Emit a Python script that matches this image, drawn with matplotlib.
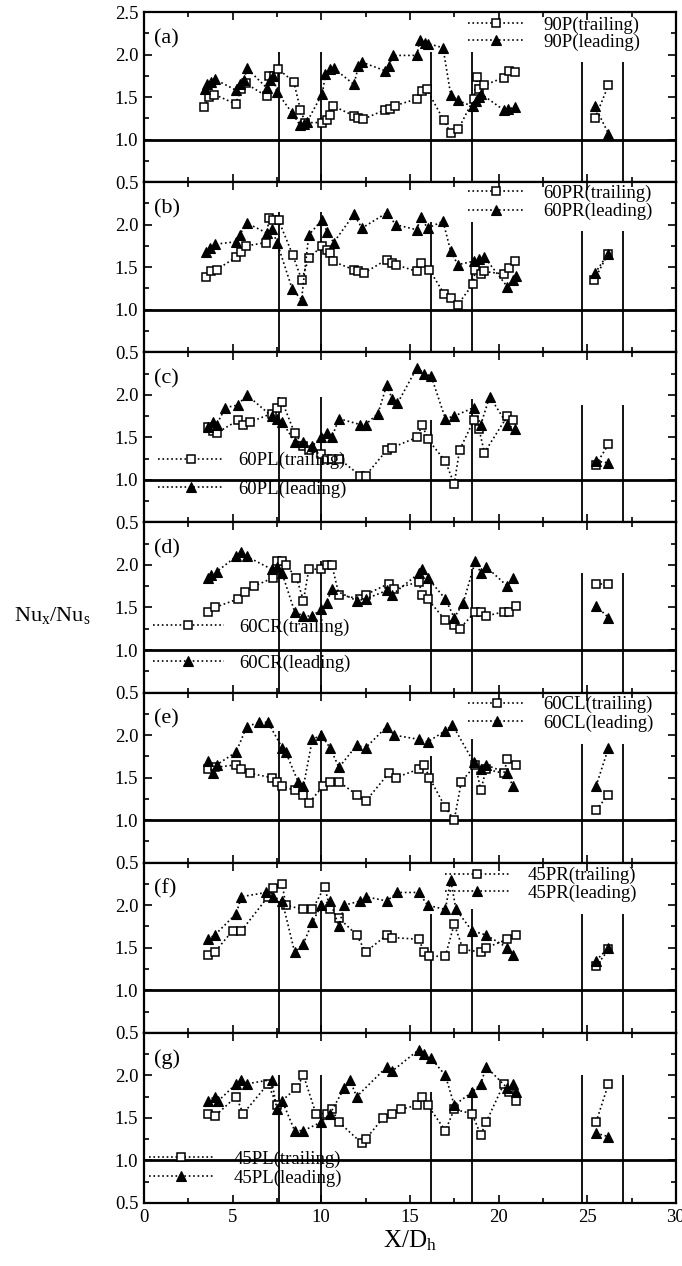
import numpy as np
import matplotlib
matplotlib.use('Agg')
import matplotlib.pyplot as plt
from matplotlib.ticker import MultipleLocator, FormatStrFormatter
from matplotlib.lines import Line2D

plt.rcParams['font.family'] = ['Liberation Serif', 'DejaVu Serif']
plt.rcParams['mathtext.fontset'] = 'custom'
plt.rcParams['mathtext.rm'] = 'Liberation Serif'
plt.rcParams['mathtext.it'] = 'Liberation Serif:italic'

# ---------------- data ----------------
rib_x = [7.6, 10.0, 16.2, 18.5, 24.7, 27.0]

a_tr_x = [3.4, 3.67, 3.98, 5.17, 5.5, 5.75, 6.92, 7.05, 7.33, 7.57, 8.45, 8.83, 9.1, 10.03, 10.3, 10.5, 10.64,
          11.84, 12.1, 12.36, 13.6, 13.9, 14.17, 15.41, 15.68, 15.96, 16.9, 17.3, 17.73, 18.6, 18.76, 18.9, 19.2,
          20.3, 20.6, 20.9, 25.44, 26.2]
a_tr_y = [1.38, 1.50, 1.53, 1.42, 1.60, 1.66, 1.51, 1.75, 1.75, 1.83, 1.68, 1.35, 1.20, 1.20, 1.23, 1.29, 1.40,
          1.28, 1.25, 1.24, 1.35, 1.36, 1.40, 1.48, 1.57, 1.59, 1.23, 1.08, 1.12, 1.48, 1.74, 1.60, 1.64,
          1.73, 1.81, 1.79, 1.25, 1.64]
a_ld_x = [3.43, 3.58, 3.8, 4.0, 5.2, 5.4, 5.65, 5.8, 6.92, 7.1, 7.3, 7.5, 8.37, 8.8, 9.03, 9.2, 10.06, 10.24,
          10.5, 10.7, 11.84, 12.1, 12.3, 13.6, 13.8, 14.05, 15.4, 15.55, 15.85, 16.0, 16.87, 17.3, 17.7, 18.55,
          18.75, 18.9, 19.0, 20.28, 20.56, 20.9, 25.44, 26.2]
a_ld_y = [1.59, 1.65, 1.68, 1.71, 1.58, 1.65, 1.70, 1.84, 1.61, 1.70, 1.75, 1.56, 1.31, 1.17, 1.18, 1.21, 1.54, 1.77,
          1.83, 1.84, 1.65, 1.86, 1.91, 1.81, 1.86, 1.99, 1.99, 2.17, 2.14, 2.13, 2.08, 1.53, 1.46, 1.39,
          1.45, 1.50, 1.54, 1.35, 1.36, 1.38, 1.39, 1.07]

b_tr_x = [3.49, 3.77, 4.1, 5.2, 5.47, 5.75, 6.88, 7.05, 7.3, 7.6, 8.4, 8.9, 9.3, 10.06, 10.35, 10.5, 10.64, 11.84,
          12.1, 12.4, 13.7, 13.97, 14.2, 15.4, 15.6, 16.1, 16.95, 17.3, 17.7, 18.55, 18.7, 19.0, 19.2, 20.3, 20.6,
          20.9, 25.4, 26.15]
b_tr_y = [1.39, 1.46, 1.47, 1.62, 1.68, 1.75, 1.79, 2.08, 2.06, 2.05, 1.64, 1.35, 1.61, 1.75, 1.70, 1.67, 1.57, 1.47,
          1.45, 1.43, 1.59, 1.55, 1.53, 1.45, 1.55, 1.47, 1.18, 1.14, 1.06, 1.30, 1.47, 1.42, 1.45, 1.42, 1.49,
          1.57, 1.35, 1.65]
b_ld_x = [3.49, 3.75, 4.0, 5.2, 5.4, 5.8, 6.95, 7.2, 7.51, 8.37, 8.89, 9.3, 10.06, 10.34, 10.7, 11.84, 12.3, 13.7,
          14.2, 15.4, 15.6, 16.0, 16.87, 17.3, 17.7, 18.6, 18.9, 19.2, 20.5, 20.8, 21.0, 25.44, 26.15]
b_ld_y = [1.68, 1.73, 1.77, 1.80, 1.88, 2.02, 1.90, 1.95, 1.79, 1.24, 1.12, 1.88, 2.06, 1.91, 1.79, 2.12, 1.96, 2.14,
          2.00, 1.94, 2.09, 1.96, 2.04, 1.69, 1.53, 1.57, 1.60, 1.62, 1.27, 1.35, 1.40, 1.43, 1.65]

c_tr_x = [3.6, 3.9, 4.1, 5.3, 5.6, 6.0, 7.2, 7.5, 7.8, 8.5, 9.0, 9.3, 10.0, 10.3, 10.6, 11.0, 12.2, 12.5, 13.7,
          14.0, 15.4, 15.7, 16.0, 17.0, 17.5, 17.8, 18.6, 18.9, 19.2, 20.5, 20.8, 25.5, 26.2]
c_tr_y = [1.62, 1.58, 1.55, 1.70, 1.65, 1.68, 1.78, 1.85, 1.92, 1.55, 1.40, 1.35, 1.30, 1.25, 1.25, 1.25, 1.05, 1.05,
          1.35, 1.38, 1.50, 1.65, 1.48, 1.22, 0.95, 1.35, 1.70, 1.60, 1.32, 1.75, 1.70, 1.18, 1.42]
c_ld_x = [3.6, 3.9, 4.1, 4.6, 5.3, 5.8, 7.2, 7.5, 7.8, 8.5, 9.0, 9.5, 10.0, 10.3, 10.6, 11.0, 12.2, 12.5, 13.2,
          13.7, 14.0, 14.3, 15.4, 15.8, 16.2, 17.0, 17.5, 18.6, 19.0, 19.5, 20.5, 20.9, 25.5, 26.2]
c_ld_y = [1.62, 1.68, 1.65, 1.85, 1.88, 2.00, 1.75, 1.72, 1.68, 1.45, 1.45, 1.40, 1.50, 1.55, 1.50, 1.72, 1.65, 1.65,
          1.78, 2.12, 1.95, 1.90, 2.32, 2.25, 2.22, 1.72, 1.75, 1.85, 1.65, 1.98, 1.65, 1.60, 1.22, 1.20]

d_tr_x = [3.6, 4.0, 5.3, 5.7, 6.2, 7.3, 7.5, 7.8, 8.0, 8.6, 9.0, 9.3, 10.0, 10.3, 10.6, 11.0, 12.2, 12.5, 13.8,
          14.1, 15.5, 15.7, 16.0, 17.0, 17.5, 17.8, 18.7, 19.0, 19.3, 20.3, 20.6, 21.0, 25.5, 26.2]
d_tr_y = [1.45, 1.50, 1.60, 1.68, 1.75, 1.85, 2.05, 2.05, 2.00, 1.85, 1.58, 1.95, 1.95, 2.00, 2.00, 1.65, 1.60, 1.65,
          1.78, 1.72, 1.80, 1.65, 1.60, 1.35, 1.30, 1.25, 1.45, 1.45, 1.40, 1.45, 1.45, 1.52, 1.78, 1.78]
d_ld_x = [3.6, 3.8, 4.1, 5.2, 5.5, 5.8, 7.2, 7.5, 7.8, 8.5, 9.0, 9.5, 10.0, 10.3, 10.6, 12.0, 12.5, 13.7, 14.0,
          15.5, 15.7, 16.0, 17.0, 17.5, 18.0, 18.7, 19.0, 19.3, 20.5, 20.8, 25.5, 26.2]
d_ld_y = [1.85, 1.88, 1.92, 2.10, 2.15, 2.10, 1.95, 1.98, 1.90, 1.45, 1.40, 1.40, 1.48, 1.55, 1.72, 1.58, 1.60, 1.70,
          1.65, 1.90, 1.95, 1.85, 1.60, 1.38, 1.55, 2.05, 1.90, 1.98, 1.75, 1.85, 1.52, 1.38]

e_tr_x = [3.6, 4.0, 5.2, 5.5, 6.0, 7.2, 7.5, 7.8, 8.5, 9.0, 9.3, 10.1, 10.5, 11.0, 12.0, 12.5, 13.8, 14.2, 15.5,
          15.8, 16.1, 17.0, 17.5, 17.9, 18.7, 19.0, 19.3, 20.3, 20.5, 21.0, 25.5, 26.2]
e_tr_y = [1.60, 1.62, 1.65, 1.60, 1.55, 1.50, 1.45, 1.40, 1.35, 1.30, 1.20, 1.40, 1.45, 1.45, 1.30, 1.22, 1.55, 1.50,
          1.60, 1.65, 1.50, 1.15, 1.00, 1.45, 1.65, 1.35, 1.60, 1.55, 1.72, 1.65, 1.12, 1.30]
e_ld_x = [3.6, 3.9, 4.1, 5.2, 5.8, 6.5, 7.0, 7.8, 8.0, 8.7, 9.0, 9.5, 10.0, 10.5, 11.0, 12.0, 12.5, 13.7, 14.1,
          15.5, 16.0, 17.0, 17.4, 18.6, 19.0, 19.3, 20.5, 20.8, 25.5, 26.2]
e_ld_y = [1.70, 1.55, 1.65, 1.80, 2.10, 2.15, 2.15, 1.85, 1.80, 1.45, 1.40, 1.95, 2.00, 1.85, 1.62, 1.88, 1.85, 2.10,
          2.00, 1.95, 1.92, 2.05, 2.12, 1.68, 1.60, 1.65, 1.55, 1.40, 1.40, 1.85]

f_tr_x = [3.6, 4.0, 5.0, 5.5, 7.0, 7.3, 7.8, 8.0, 9.0, 9.5, 10.2, 10.5, 11.0, 12.0, 12.5, 13.7, 14.0, 15.5, 15.8,
          16.1, 17.0, 17.5, 18.0, 19.0, 19.3, 20.5, 21.0, 25.5, 26.2]
f_tr_y = [1.42, 1.45, 1.70, 1.70, 2.10, 2.20, 2.25, 2.00, 1.95, 1.95, 2.22, 1.95, 1.85, 1.65, 1.45, 1.65, 1.62, 1.60,
          1.45, 1.40, 1.40, 1.78, 1.48, 1.45, 1.50, 1.60, 1.65, 1.28, 1.48]
f_ld_x = [3.6, 4.0, 5.2, 5.5, 6.9, 7.3, 7.8, 8.5, 9.0, 9.5, 10.0, 10.5, 11.0, 11.3, 12.2, 12.5, 13.7, 14.3, 15.5,
          16.0, 17.0, 17.3, 17.6, 18.5, 19.3, 20.5, 20.8, 25.5, 26.2]
f_ld_y = [1.60, 1.65, 1.90, 2.10, 2.15, 2.10, 2.05, 1.45, 1.55, 1.80, 2.00, 2.05, 1.75, 2.00, 2.05, 2.10, 2.05, 2.15,
          2.15, 2.00, 1.95, 2.30, 1.95, 1.70, 1.65, 1.50, 1.42, 1.35, 1.50]

g_tr_x = [3.6, 4.0, 5.2, 5.6, 7.0, 7.5, 8.6, 9.0, 9.7, 10.3, 10.6, 11.0, 12.3, 12.5, 13.5, 14.0, 14.5, 15.4, 15.7,
          16.0, 17.0, 17.5, 18.5, 19.0, 19.3, 20.3, 20.6, 21.0, 25.5, 26.2]
g_tr_y = [1.55, 1.52, 1.75, 1.55, 1.90, 1.65, 1.85, 2.00, 1.55, 1.55, 1.60, 1.45, 1.20, 1.25, 1.50, 1.55, 1.60, 1.65,
          1.75, 1.65, 1.35, 1.60, 1.55, 1.30, 1.45, 1.90, 1.80, 1.70, 1.45, 1.90]
g_ld_x = [3.6, 4.0, 4.2, 5.2, 5.5, 5.8, 7.2, 7.5, 7.8, 8.5, 9.0, 10.0, 10.5, 11.3, 11.6, 12.0, 13.7, 14.0, 15.5,
          15.8, 16.2, 17.0, 17.5, 18.5, 19.0, 19.3, 20.5, 20.8, 21.0, 25.5, 26.2]
g_ld_y = [1.70, 1.75, 1.70, 1.90, 1.95, 1.90, 1.95, 1.60, 1.70, 1.35, 1.35, 1.45, 1.55, 1.85, 1.95, 1.75, 2.10, 2.05,
          2.30, 2.25, 2.20, 2.00, 1.65, 1.80, 1.90, 2.10, 1.85, 1.90, 1.80, 1.32, 1.28]

tags = ['(a)', '(b)', '(c)', '(d)', '(e)', '(f)', '(g)']
names = ['90P', '60PR', '60PL', '60CR', '60CL', '45PR', '45PL']
series = [(a_tr_x, a_tr_y, a_ld_x, a_ld_y), (b_tr_x, b_tr_y, b_ld_x, b_ld_y),
          (c_tr_x, c_tr_y, c_ld_x, c_ld_y), (d_tr_x, d_tr_y, d_ld_x, d_ld_y),
          (e_tr_x, e_tr_y, e_ld_x, e_ld_y), (f_tr_x, f_tr_y, f_ld_x, f_ld_y),
          (g_tr_x, g_tr_y, g_ld_x, g_ld_y)]
rib_tops = [[2.03, 2.03, 2.03, 2.03, 1.91, 1.91],
            [2.15, 2.15, 2.03, 2.03, 1.93, 1.93],
            [1.98, 1.98, 1.70, 1.95, 1.88, 1.88],
            [2.05, 2.05, 1.80, 1.95, 1.90, 1.90],
            [2.05, 2.05, 1.75, 1.95, 1.90, 1.90],
            [2.05, 2.05, 1.90, 1.95, 1.90, 1.90],
            [2.00, 2.00, 1.80, 1.85, 2.00, 2.00]]

# legend placement: (anchor x, anchor y, labelspacing, handlelength, textpad)
leg_cfg = [(18.3, 2.45, 0.0, 2.9, 1.1),
           (18.3, 2.47, 0.05, 2.9, 1.1),
           (0.8, 1.33, 0.6, 3.5, 0.8),
           (0.5, 1.37, 1.0, 3.8, 0.8),
           (18.3, 2.46, 0.05, 3.0, 1.0),
           (17.0, 2.45, 0.0, 3.4, 1.0),
           (0.3, 1.12, 0.1, 3.4, 1.1)]

FS = 13.5
fig = plt.figure(figsize=(6.82, 12.66), dpi=100)
fig.subplots_adjust(left=0.211, right=0.991, top=0.9905, bottom=0.0498, hspace=0.0)
axes = fig.subplots(7, 1, sharex=True)

sq = dict(ls=':', lw=1.2, color='k', marker='s', ms=6, mfc='white', mec='k', mew=1.1)
tri = dict(ls=':', lw=1.2, color='k', marker='^', ms=7, mfc='k', mec='k', mew=0.8)

for i, ax in enumerate(axes):
    trx, tr_y, ldx, ld_y = [np.asarray(v, float) for v in series[i]]
    ax.axhline(1.0, color='k', lw=2.0, zorder=1)
    ax.vlines(rib_x, 0.5, rib_tops[i], colors='k', lw=1.3, zorder=1)
    for xs, ys, st in ((trx, tr_y, sq), (ldx, ld_y, tri)):
        for m in (xs < 23, xs > 23):
            ax.plot(xs[m], ys[m], zorder=3, **st)
    ax.set_xlim(0, 30)
    ax.set_ylim(0.5, 2.5)
    if i == 0:
        ax.set_yticks([0.5, 1.0, 1.5, 2.0, 2.5])
    else:
        ax.set_yticks([0.5, 1.0, 1.5, 2.0])
    ax.yaxis.set_major_formatter(FormatStrFormatter('%.1f'))
    ax.yaxis.set_minor_locator(MultipleLocator(0.25))
    ax.xaxis.set_major_locator(MultipleLocator(5))
    ax.xaxis.set_minor_locator(MultipleLocator(2.5))
    ax.tick_params(which='both', direction='in', top=True, right=True, labelsize=FS, width=1.2)
    ax.tick_params(which='major', length=6, pad=4)
    ax.tick_params(which='minor', length=3.5)
    for s in ax.spines.values():
        s.set_linewidth(1.6)
    ax.text(0.55, 2.19, tags[i], fontsize=16, va='center', ha='left')

    bx, by, ls_, hl, tp = leg_cfg[i]
    h_tr = Line2D([], [], **sq)
    h_ld = Line2D([], [], **tri)
    ax.legend([h_tr, h_ld], [names[i] + '(trailing)', names[i] + '(leading)'],
              loc='upper left', bbox_to_anchor=(bx, by), bbox_transform=ax.transData,
              frameon=False, fontsize=FS, numpoints=1, borderpad=0, borderaxespad=0,
              labelspacing=ls_, handlelength=hl, handletextpad=tp)

axes[-1].set_xlabel(r'X/D$_\mathrm{h}$', fontsize=18, labelpad=2)
fig.text(0.077, 0.514, r'Nu$_\mathrm{x}$/Nu$_\mathrm{s}$', fontsize=16, ha='center', va='center')

fig.savefig('out.png', dpi=100)
